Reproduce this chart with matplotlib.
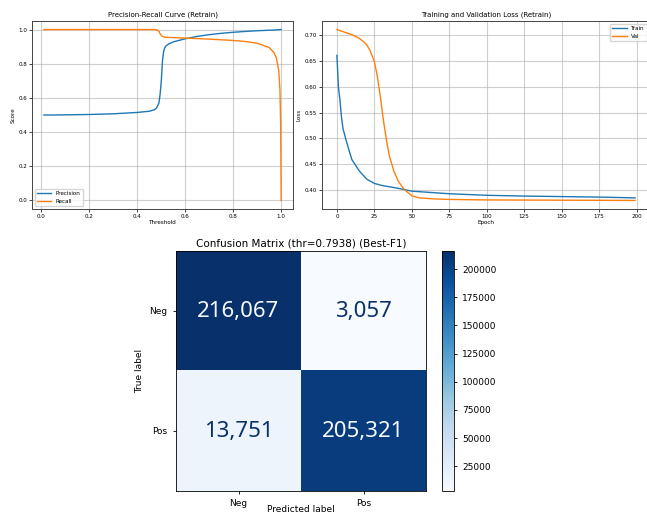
import numpy as np
import matplotlib
matplotlib.use("Agg")
import matplotlib.pyplot as plt

# precision / recall vs. decision threshold
thresholds = [0.01, 0.05, 0.10, 0.20, 0.30, 0.40, 0.45, 0.47, 0.48, 0.49, 0.495,
              0.50, 0.505, 0.51, 0.515, 0.52, 0.53, 0.55, 0.60, 0.65, 0.70, 0.75,
              0.80, 0.85, 0.90, 0.95, 0.97, 0.98, 0.99, 0.995, 0.998, 1.0]
precision = [0.500, 0.500, 0.501, 0.503, 0.507, 0.515, 0.522, 0.530, 0.540, 0.570, 0.620,
             0.700, 0.820, 0.875, 0.895, 0.905, 0.915, 0.928, 0.946, 0.960, 0.970, 0.978,
             0.984, 0.989, 0.993, 0.996, 0.997, 0.998, 0.999, 0.9995, 1.0, 1.0]
recall = [1.0, 1.0, 1.0, 1.0, 1.0, 1.0, 1.0, 1.0, 0.999, 0.99, 0.975,
          0.965, 0.960, 0.957, 0.955, 0.955, 0.954, 0.953, 0.950, 0.947, 0.944, 0.940,
          0.936, 0.930, 0.920, 0.895, 0.865, 0.835, 0.760, 0.650, 0.450, 0.0]

# loss history
train_epochs = [0, 1, 2, 3, 4, 6, 8, 10, 15, 20, 25, 30, 40, 50, 75, 100, 125, 150, 175, 199]
train_loss = [0.661, 0.600, 0.575, 0.543, 0.520, 0.498, 0.478, 0.459, 0.437, 0.421,
              0.413, 0.409, 0.404, 0.398, 0.393, 0.390, 0.3885, 0.3875, 0.3865, 0.385]
val_epochs = [0, 10, 15, 18, 20, 22, 25, 27, 29, 31, 33, 35, 38, 41, 45, 50, 55, 65, 75,
              100, 150, 199]
val_loss = [0.711, 0.701, 0.694, 0.687, 0.681, 0.671, 0.649, 0.620, 0.581, 0.536, 0.498,
            0.466, 0.437, 0.417, 0.401, 0.389, 0.385, 0.383, 0.382, 0.381, 0.3805, 0.380]

# confusion matrix at best-F1 threshold
cm_labels = ["Neg", "Pos"]
cm = np.array([[216067, 3057],
               [13751, 205321]])
best_thr = 0.7938

W, H = 647, 514
fig = plt.figure(figsize=(W / 100, H / 100), dpi=100)


def box(x0, y0, x1, y1):
    return [x0 / W, 1 - y1 / H, (x1 - x0) / W, (y1 - y0) / H]


small = 4.1
title_fs = 5.0
grid_kw = dict(color="#b0b0b0", alpha=0.6, linewidth=0.8)


def style_small(ax, title, xlabel, ylabel, loc):
    ax.set_title(title, fontsize=title_fs, pad=3)
    ax.set_xlabel(xlabel, fontsize=small, labelpad=1)
    ax.set_ylabel(ylabel, fontsize=small, labelpad=2)
    ax.tick_params(labelsize=small, length=2, width=0.5, pad=1.5)
    ax.legend(fontsize=small, loc=loc, handlelength=2.5)
    ax.grid(True, **grid_kw)
    for s in ax.spines.values():
        s.set_linewidth(0.7)
        s.set_color("#444444")


# PR curve
ax1 = fig.add_axes(box(32, 21, 293, 209))
ax1.plot(thresholds, precision, label="Precision", lw=1.0)
ax1.plot(thresholds, recall, label="Recall", lw=1.0)
style_small(ax1, "Precision-Recall Curve (Retrain)", "Threshold", "Score", "lower left")

# loss curves
ax2 = fig.add_axes(box(322, 21, 650, 209))
ax2.plot(train_epochs, train_loss, label="Train", lw=1.0)
ax2.plot(val_epochs, val_loss, label="Val", lw=1.0)
style_small(ax2, "Training and Validation Loss (Retrain)", "Epoch", "Loss", "upper right")

# confusion matrix
ax3 = fig.add_axes(box(176, 251, 426, 491))
cax = fig.add_axes(box(442, 251, 454, 491))
cmap = plt.cm.Blues
im = ax3.imshow(cm, cmap=cmap, aspect="auto")
cb = fig.colorbar(im, cax=cax)
cb.ax.tick_params(labelsize=6.5, length=2.5, width=0.6)
cb.outline.set_linewidth(0.6)

mid = (cm.max() + cm.min()) / 2
for i in range(2):
    for j in range(2):
        color = cmap(0.0) if cm[i, j] > mid else cmap(1.0)
        ax3.text(j, i, f"{cm[i, j]:,}", ha="center", va="center", color=color,
                 fontsize=16, family=["Noto Sans", "DejaVu Sans"])

ax3.set_xticks(range(2), cm_labels)
ax3.set_yticks(range(2), cm_labels)
ax3.tick_params(labelsize=6.5, length=2.5, width=0.6)
ax3.set_xlabel("Predicted label", fontsize=6.5, labelpad=-2.5)
ax3.set_ylabel("True label", fontsize=6.5)
ax3.set_title(f"Confusion Matrix (thr={best_thr:.4f}) (Best-F1)", fontsize=7.5, pad=3)
for s in ax3.spines.values():
    s.set_linewidth(0.6)

fig.savefig("out.png", dpi=100)
